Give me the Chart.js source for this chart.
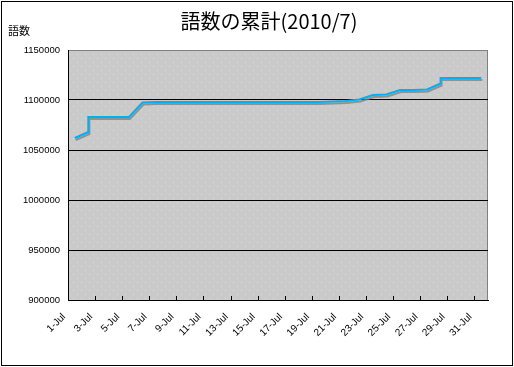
<!DOCTYPE html>
<html>
<head>
<meta charset="utf-8">
<script src="https://cdn.jsdelivr.net/npm/chart.js@4.4.1/dist/chart.umd.min.js"></script>
<style>
  html, body { margin: 0; padding: 0; background: #fff; }
  #wrap { position: relative; width: 514px; height: 367px; }
  #frame { position: absolute; left: 1px; top: 1px; width: 510px; height: 363px; border: 1px solid #000; pointer-events: none; }
  #title { position: absolute; left: 269px; top: 10px; transform: translateX(-50%); white-space: nowrap;
           font: 20px/22px 'Noto Sans CJK JP', sans-serif; color: #000; }
  #ylab { position: absolute; left: 8px; top: 24px; font: 11px/13px 'Noto Sans CJK JP', sans-serif; color: #000; }
  canvas { position: absolute; left: 0; top: 0; }
</style>
</head>
<body>
<div id="wrap">
  <canvas id="chart" width="514" height="367"></canvas>
  <div id="frame"></div>
  <div id="title">語数の累計(2010/7)</div>
  <div id="ylab">語数</div>
</div>
<script>
  // ── Data ────────────────────────────────────────────────────────
  // day of July; a day listed twice = two entries on that date
  const days = [1, 2, 2, 3, 4, 5, 6, 7, 8, 9, 10, 11, 12, 13, 14, 15, 16, 17, 18, 19,
                20, 21, 22, 23, 24, 25, 26, 27, 28, 28, 29, 30, 31];
  const wordCounts = [1062000, 1068000, 1083000, 1083000, 1083000, 1083000, 1097500,
                      1098000, 1098000, 1098000, 1098000, 1098000, 1098000, 1098000,
                      1098000, 1098000, 1098000, 1098000, 1098000, 1098000,
                      1098500, 1099000, 1100500, 1105000, 1105500, 1110000, 1110000,
                      1110500, 1116500, 1122000, 1122000, 1122000, 1122000];
  const xTickLabels = ['1-Jul', '3-Jul', '5-Jul', '7-Jul', '9-Jul', '11-Jul', '13-Jul', '15-Jul',
                       '17-Jul', '19-Jul', '21-Jul', '23-Jul', '25-Jul', '27-Jul', '29-Jul', '31-Jul'];
  const xTickValues = [0.5, 2.5, 4.5, 6.5, 8.5, 10.5, 12.5, 14.5, 16.5, 18.5, 20.5, 22.5, 24.5, 26.5, 28.5, 30.5];

  const LINE_COLOR = '#00B0F0';
  const TICK_FONT = { family: "'Liberation Sans', Arial, sans-serif", size: 9.5 };

  // light dotted gray fill like the Excel plot area
  function plotPattern(ctx) {
    const c = document.createElement('canvas');
    c.width = 8; c.height = 8;
    const p = c.getContext('2d');
    p.fillStyle = '#CACACA';
    p.fillRect(0, 0, 8, 8);
    p.fillStyle = '#DCDCDC';
    p.fillRect(1, 2, 1, 1);
    p.fillRect(5, 6, 1, 1);
    return ctx.createPattern(c, 'repeat');
  }

  const plotArea = {
    id: 'plotArea',
    beforeDraw(chart) {
      const { ctx, chartArea: a } = chart;
      ctx.save();
      ctx.fillStyle = plotPattern(ctx);
      ctx.fillRect(a.left, a.top, a.right - a.left, a.bottom - a.top);
      ctx.strokeStyle = '#808080';
      ctx.lineWidth = 1;
      ctx.strokeRect(a.left + 0.5, a.top + 0.5, a.right - a.left - 1, a.bottom - a.top);
      ctx.restore();
    },
    // short tick marks pointing inward from the bottom axis
    afterDraw(chart) {
      const { ctx, chartArea: a } = chart;
      const xs = chart.scales.x;
      ctx.save();
      ctx.strokeStyle = '#000';
      ctx.lineWidth = 1;
      xs.ticks.forEach(t => {
        const px = Math.round(xs.getPixelForValue(t.value)) + 0.5;
        ctx.beginPath();
        ctx.moveTo(px, a.bottom);
        ctx.lineTo(px, a.bottom - 4);
        ctx.stroke();
      });
      ctx.restore();
    }
  };

  // gray drop shadow under the series line
  const lineShadow = {
    id: 'lineShadow',
    beforeDatasetDraw(chart) {
      const ctx = chart.ctx;
      ctx.save();
      ctx.shadowColor = 'rgba(130,130,130,0.8)';
      ctx.shadowOffsetX = 1;
      ctx.shadowOffsetY = 2;
      ctx.shadowBlur = 0;
    },
    afterDatasetDraw(chart) {
      chart.ctx.restore();
    }
  };

  new Chart(document.getElementById('chart'), {
    type: 'line',
    data: {
      datasets: [{
        data: days.map((d, i) => ({ x: d, y: wordCounts[i] })),
        borderColor: LINE_COLOR,
        borderWidth: 2,
        pointRadius: 0,
        tension: 0,
        fill: false
      }]
    },
    options: {
      responsive: false,
      animation: false,
      layout: { padding: { top: 50, right: 26, left: 0, bottom: 0 } },
      plugins: {
        legend: { display: false },
        tooltip: { enabled: false },
        title: { display: false }
      },
      scales: {
        x: {
          type: 'linear',
          min: 0.5,
          max: 31.5,
          afterBuildTicks(scale) {
            scale.ticks = xTickValues.map(v => ({ value: v }));
          },
          afterFit(scale) { scale.height = 67; },
          grid: { display: false, drawTicks: false },
          border: { display: true, color: '#000', width: 1 },
          ticks: {
            autoSkip: false,
            minRotation: 45,
            maxRotation: 45,
            padding: 11,
            labelOffset: -4,
            color: '#000',
            font: { ...TICK_FONT, size: 10 },
            callback: (v, i) => xTickLabels[i]
          }
        },
        y: {
          min: 900000,
          max: 1150000,
          afterFit(scale) { scale.width = 68; },
          grid: {
            drawTicks: false,
            color: ctx => (ctx.tick && ctx.tick.value === 1150000) ? 'rgba(0,0,0,0)' : '#000',
            lineWidth: 1
          },
          border: { display: true, color: '#000', width: 1 },
          ticks: {
            stepSize: 50000,
            padding: 8,
            color: '#000',
            font: TICK_FONT,
            callback: v => String(v)
          }
        }
      }
    },
    plugins: [plotArea, lineShadow]
  });
</script>
</body>
</html>
